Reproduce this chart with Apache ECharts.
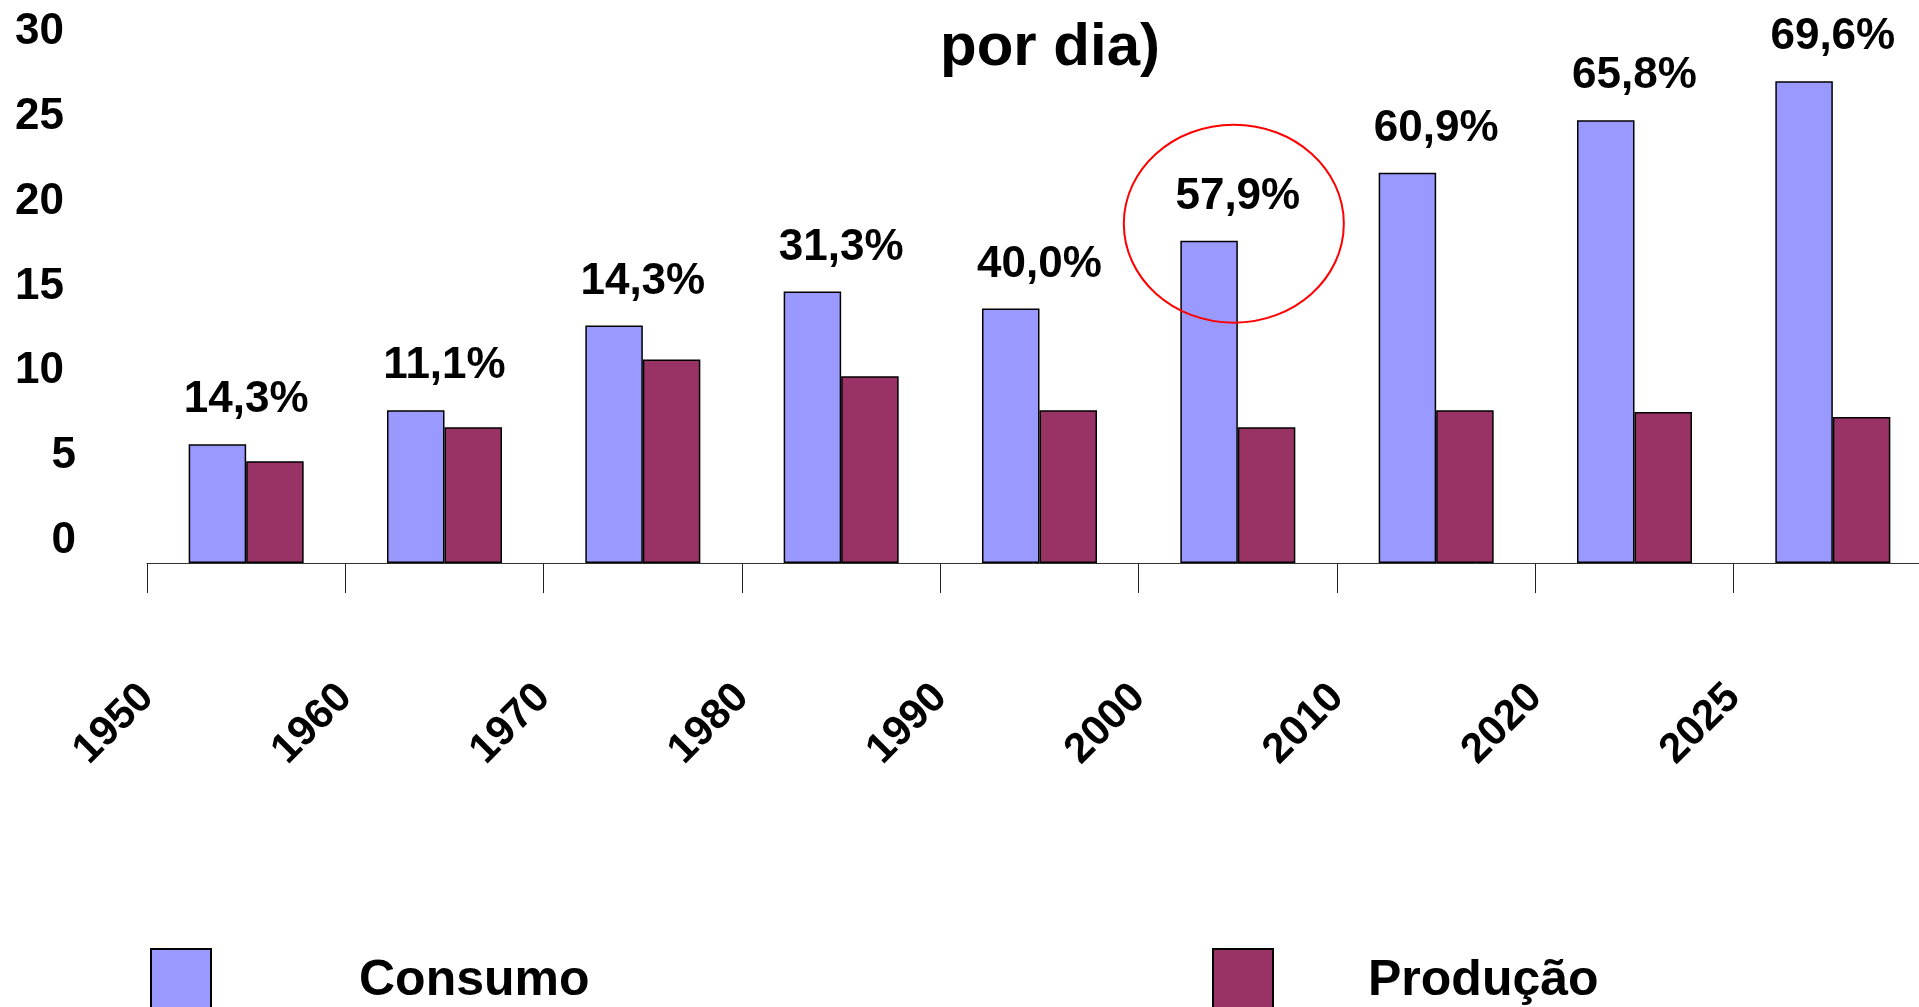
<!DOCTYPE html>
<html>
<head>
<meta charset="utf-8">
<script src="https://cdn.jsdelivr.net/npm/echarts@6/dist/echarts.min.js"></script>
<style>
  html, body { margin: 0; padding: 0; background: #fff; }
  #chart { width: 1919px; height: 1007px; }
</style>
</head>
<body>
<div id="chart"></div>
<script>
// dados (milhões de barris por dia)
const years = ['1950', '1960', '1970', '1980', '1990', '2000', '2010', '2020', '2025']
const consumo = [7, 9, 14, 16, 15, 19, 23, 26.1, 28.4]
const producao = [6, 8, 12, 11, 9, 8, 9, 8.9, 8.6]
const dependencia = ['14,3%', '11,1%', '14,3%', '31,3%', '40,0%', '57,9%', '60,9%', '65,8%', '69,6%']
const yTicks = [0, 5, 10, 15, 20, 25, 30]
const highlightYear = '2000'

const font = "'Liberation Sans', Arial, sans-serif"
const barW = 57.5

const chart = echarts.init(document.getElementById('chart'))

const option = {
  animation: false,
  backgroundColor: '#ffffff',
  textStyle: { fontFamily: font },
  title: {
    text: 'por dia)',
    left: 940,
    top: 18,
    padding: 0,
    textStyle: { fontSize: 60, fontWeight: 'bold', color: '#000', fontFamily: font }
  },
  legend: [
    {
      data: ['Consumo'],
      left: 150,
      top: 948,
      padding: 0,
      itemWidth: 60,
      itemHeight: 64,
      icon: 'rect',
      formatter: '{a|{name}}',
      textStyle: {
        rich: { a: { fontSize: 50, fontWeight: 'bold', color: '#000', fontFamily: font, padding: [0, 0, 0, 143] } }
      }
    },
    {
      data: ['Produção'],
      left: 1212,
      top: 948,
      padding: 0,
      itemWidth: 60,
      itemHeight: 64,
      icon: 'rect',
      formatter: '{a|{name}}',
      textStyle: {
        rich: { a: { fontSize: 50, fontWeight: 'bold', color: '#000', fontFamily: font, padding: [0, 0, 0, 90] } }
      }
    }
  ],
  // a área de plotagem passa um pouco da borda direita, como no original
  grid: { left: 147, width: 1785, top: 54, bottom: 444, outerBoundsMode: 'none', containLabel: false },
  xAxis: [
    {
      type: 'category',
      data: years,
      axisLine: { lineStyle: { color: '#333', width: 1 } },
      axisTick: { show: true, length: 30, lineStyle: { color: '#222', width: 1 } },
      axisLabel: { show: false }
    },
    {
      // rótulos dos anos nas divisões entre categorias
      type: 'category',
      data: years.concat(['']),
      boundaryGap: false,
      position: 'bottom',
      axisLine: { show: false },
      axisTick: { show: false },
      axisLabel: {
        interval: 0,
        rotate: 45,
        margin: 128,
        fontSize: 42,
        fontWeight: 'bold',
        color: '#000',
        fontFamily: font
      }
    }
  ],
  yAxis: {
    type: 'value',
    min: yTicks[0],
    max: yTicks[yTicks.length - 1],
    interval: 5,
    axisLine: { show: false },
    axisTick: { show: false },
    splitLine: { show: false },
    axisLabel: {
      margin: 71,
      verticalAlign: 'bottom',
      formatter: (v) => (v >= 10 ? '{w|' + v + '}' : '{n|' + v + '}'),
      rich: {
        w: { fontSize: 44, fontWeight: 'bold', color: '#000', fontFamily: font, padding: [0, 12, 0, 0] },
        n: { fontSize: 44, fontWeight: 'bold', color: '#000', fontFamily: font }
      }
    }
  },
  series: [
    {
      name: 'Consumo',
      type: 'bar',
      xAxisIndex: 0,
      data: consumo,
      barWidth: barW,
      barGap: '0%',
      itemStyle: { color: '#9999ff', borderColor: '#000', borderWidth: 1.5 },
      label: {
        show: true,
        position: 'top',
        distance: 22,
        offset: [barW / 2, 0],
        formatter: (p) => dependencia[p.dataIndex],
        fontSize: 44,
        fontWeight: 'bold',
        color: '#000',
        fontFamily: font
      }
    },
    {
      name: 'Produção',
      type: 'bar',
      xAxisIndex: 0,
      data: producao,
      barWidth: barW,
      barGap: '0%',
      itemStyle: { color: '#993366', borderColor: '#000', borderWidth: 1.5 }
    }
  ]
}

chart.setOption(option)

// elipse vermelha destacando o ano 2000
const c = chart.convertToPixel({ xAxisIndex: 0, yAxisIndex: 0 }, [highlightYear, 20])
chart.setOption({
  graphic: [{
    type: 'ellipse',
    shape: { cx: c[0] - 4, cy: c[1], rx: 110, ry: 99 },
    style: { fill: 'none', stroke: '#ff0000', lineWidth: 2 },
    z: 100
  }]
})
</script>
</body>
</html>
